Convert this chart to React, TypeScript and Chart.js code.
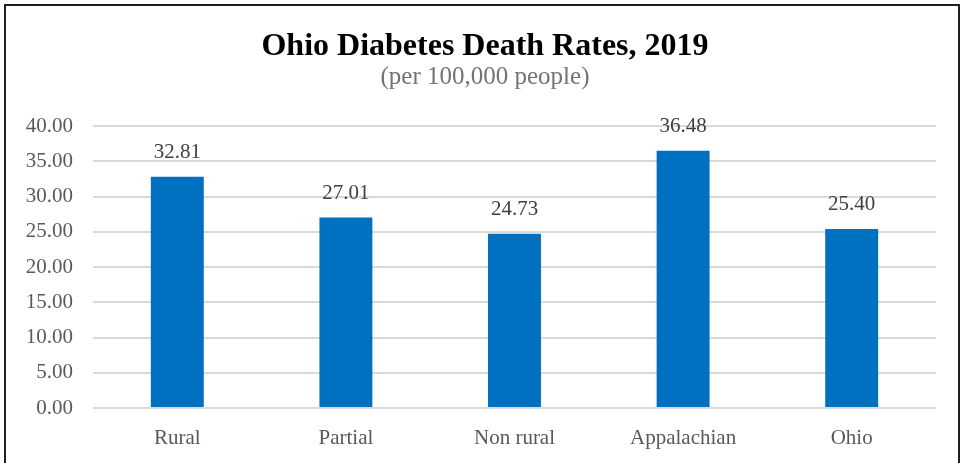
import React, { useEffect, useRef } from "react";
import { Chart, registerables } from "chart.js";

Chart.register(...registerables);

const categories = ["Rural", "Partial", "Non rural", "Appalachian", "Ohio"];
const deathRates = [32.81, 27.01, 24.73, 36.48, 25.4];
const titleText = "Ohio Diabetes Death Rates, 2019";
const subtitleText = "(per 100,000 people)";
const yMin = 0;
const yMax = 40;
const yStep = 5;

const FONT = "'Liberation Serif', 'Times New Roman', serif";

const textPlugin = {
  id: "customText",
  afterDatasetsDraw(chart: any) {
    const { ctx } = chart;
    const meta = chart.getDatasetMeta(0);
    ctx.save();
    ctx.font = `21px ${FONT}`;
    ctx.fillStyle = "#404040";
    ctx.textAlign = "center";
    ctx.textBaseline = "middle";
    meta.data.forEach((bar: any, i: number) => {
      ctx.fillText(deathRates[i].toFixed(2), bar.x, bar.y - 24);
    });
    ctx.restore();
  },
  afterDraw(chart: any) {
    const { ctx, width } = chart;
    ctx.save();
    ctx.textAlign = "center";
    ctx.textBaseline = "alphabetic";
    ctx.fillStyle = "#000000";
    ctx.font = `bold 32px ${FONT}`;
    ctx.fillText(titleText, width / 2 + 3, 49);
    ctx.fillStyle = "#737373";
    ctx.font = `25px ${FONT}`;
    ctx.fillText(subtitleText, width / 2 + 3, 78);
    ctx.restore();
  },
};

export default function App() {
  const canvasRef = useRef<HTMLCanvasElement | null>(null);

  useEffect(() => {
    if (!canvasRef.current) return;
    const chart = new Chart(canvasRef.current, {
      type: "bar",
      data: {
        labels: categories,
        datasets: [
          {
            data: deathRates,
            backgroundColor: "#0070C0",
            borderWidth: 0,
            barPercentage: 0.314,
            categoryPercentage: 1,
          },
        ],
      },
      options: {
        animation: false,
        responsive: false,
        maintainAspectRatio: false,
        layout: { padding: { top: 120, right: 22, left: 0, bottom: 0 } },
        plugins: {
          legend: { display: false },
          title: { display: false },
          tooltip: { enabled: false },
        },
        scales: {
          x: {
            grid: { display: false, drawTicks: false },
            border: { display: false },
            afterFit: (scale: any) => {
              scale.height = 58;
            },
            ticks: {
              color: "#595959",
              font: { family: FONT, size: 21 },
              padding: 18,
            },
          },
          y: {
            min: yMin,
            max: yMax,
            afterFit: (scale: any) => {
              scale.width = 87;
            },
            grid: { color: "#D9D9D9", lineWidth: 2, drawTicks: false },
            border: { display: false },
            ticks: {
              stepSize: yStep,
              color: "#595959",
              font: { family: FONT, size: 21 },
              padding: 20,
              callback: (v: any) => Number(v).toFixed(2),
            },
          },
        },
      },
      plugins: [textPlugin],
    });
    return () => chart.destroy();
  }, []);

  return (
    <div
      style={{
        position: "absolute",
        left: 4,
        top: 4,
        width: 952,
        height: 460,
        border: "2px solid #1f1f1f",
        background: "#ffffff",
      }}
    >
      <canvas ref={canvasRef} width={952} height={460} style={{ display: "block" }} />
    </div>
  );
}
